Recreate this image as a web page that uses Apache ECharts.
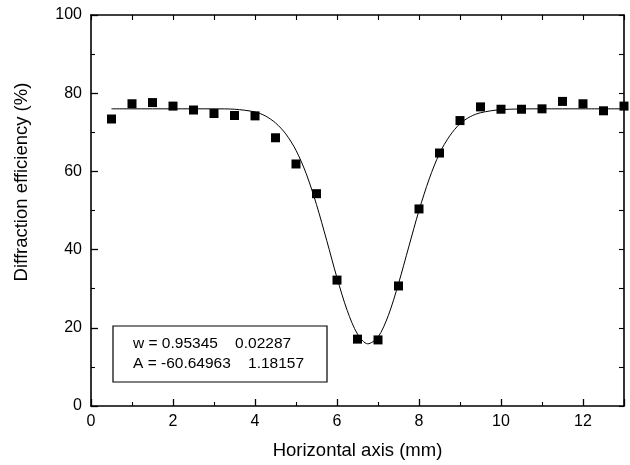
<!DOCTYPE html>
<html>
<head>
<meta charset="utf-8">
<script src="https://cdn.jsdelivr.net/npm/echarts@6/dist/echarts.min.js"></script>
<style>html,body{margin:0;padding:0;background:#fff;}#c{width:630px;height:465px;}</style>
</head>
<body>
<div id="c"></div>
<script>
// Measured points (x in mm, diffraction efficiency in %)
const pointX = [0.5, 1, 1.5, 2, 2.5, 3, 3.5, 4, 4.5, 5, 5.5, 6, 6.5, 7, 7.5, 8, 8.5, 9, 9.5, 10, 10.5, 11, 11.5, 12, 12.5, 13];
const pointY = [73.4, 77.3, 77.6, 76.7, 75.7, 74.8, 74.3, 74.2, 68.6, 61.9, 54.3, 32.2, 17.1, 16.9, 30.7, 50.4, 64.7, 73.0, 76.5, 75.9, 75.9, 76.0, 77.9, 77.3, 75.5, 76.7];
// Fitted curve
const curveX = [0.5, 1, 2, 3, 3.5, 4, 4.25, 4.5, 4.75, 5, 5.25, 5.5, 5.75, 6, 6.25, 6.5, 6.75, 7, 7.25, 7.5, 7.75, 8, 8.25, 8.5, 8.75, 9, 9.25, 9.5, 10, 11, 12, 13];
const curveY = [76.0, 76.0, 76.0, 76.0, 75.9, 75.2, 74.2, 72.4, 69.6, 65.4, 59.4, 51.5, 42.3, 32.8, 24.4, 18.4, 15.9, 17.6, 23.1, 31.3, 40.7, 50.0, 58.1, 64.6, 69.1, 72.2, 74.0, 75.0, 75.8, 76.0, 76.0, 76.0];
const xTitle = 'Horizontal axis (mm)';
const yTitle = 'Diffraction efficiency (%)';
const fitLines = ['w = 0.95345    0.02287', 'A = -60.64963    1.18157'];

const FONT = 'Liberation Sans, Arial, sans-serif';
const chart = echarts.init(document.getElementById('c'));
const axisLine = {show: true, onZero: false, lineStyle: {color: '#000', width: 1.6}};
chart.setOption({
  animation: false,
  backgroundColor: '#fff',
  grid: {left: 91, right: 6, top: 15, bottom: 58},
  xAxis: [
    {type: 'value', min: 0, max: 13, interval: 2, position: 'bottom',
     axisLine: axisLine,
     axisTick: {inside: true, length: 7, lineStyle: {color: '#000', width: 1.3}},
     minorTick: {show: true, splitNumber: 2, length: 4, lineStyle: {color: '#000', width: 1.1}},
     axisLabel: {fontSize: 16, color: '#000', fontFamily: FONT, margin: 8, showMaxLabel: false},
     splitLine: {show: false},
     name: xTitle, nameLocation: 'middle', nameGap: 35,
     nameTextStyle: {fontSize: 18.5, color: '#000', fontFamily: FONT}},
    {type: 'value', min: 0, max: 13, interval: 1, position: 'top',
     axisLine: axisLine,
     axisTick: {inside: true, length: 5, lineStyle: {color: '#000', width: 1.1}},
     axisLabel: {show: false}, splitLine: {show: false}}
  ],
  yAxis: [
    {type: 'value', min: 0, max: 100, interval: 20, position: 'left',
     axisLine: axisLine,
     axisTick: {inside: true, length: 7, lineStyle: {color: '#000', width: 1.3}},
     minorTick: {show: true, splitNumber: 2, length: 4, lineStyle: {color: '#000', width: 1.1}},
     axisLabel: {fontSize: 16, color: '#000', fontFamily: FONT, margin: 9},
     splitLine: {show: false}},
    {type: 'value', min: 0, max: 100, interval: 10, position: 'right',
     axisLine: axisLine,
     axisTick: {inside: true, length: 5, lineStyle: {color: '#000', width: 1.1}},
     axisLabel: {show: false}, splitLine: {show: false}}
  ],
  graphic: [
    {type: 'text', x: 22, y: 182, rotation: Math.PI / 2,
     style: {text: yTitle, fill: '#000', font: '18.5px ' + FONT, align: 'center', verticalAlign: 'middle'}},
    {type: 'rect', shape: {x: 113, y: 326, width: 214, height: 56},
     style: {fill: '#fff', stroke: '#000', lineWidth: 1.2}, z: 10},
    {type: 'text', x: 133, y: 344, z: 11,
     style: {text: fitLines[0], fill: '#000', font: '15.5px ' + FONT, align: 'left', verticalAlign: 'middle'}},
    {type: 'text', x: 133, y: 364, z: 11,
     style: {text: fitLines[1], fill: '#000', font: '15.5px ' + FONT, align: 'left', verticalAlign: 'middle'}}
  ],
  series: [
    {type: 'line', xAxisIndex: 0, yAxisIndex: 0, smooth: 0.3, showSymbol: false,
     data: curveX.map((x, i) => [x, curveY[i]]),
     lineStyle: {color: '#000', width: 1}, z: 2},
    {type: 'scatter', xAxisIndex: 0, yAxisIndex: 0, symbol: 'rect', symbolSize: 9,
     data: pointX.map((x, i) => [x, pointY[i]]),
     itemStyle: {color: '#000', opacity: 1}, z: 3}
  ]
});
</script>
</body>
</html>
